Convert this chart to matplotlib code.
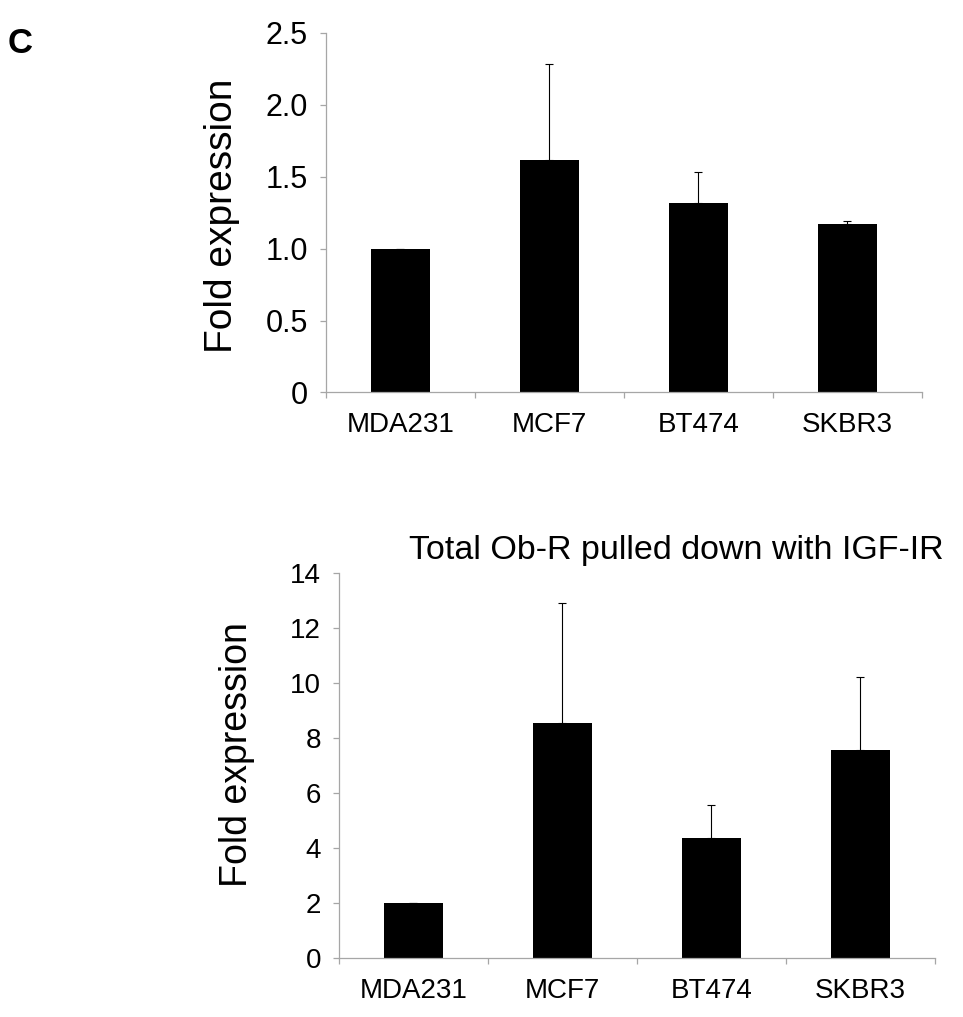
import matplotlib
matplotlib.use("Agg")
import matplotlib.pyplot as plt
import numpy as np

plt.rcParams['font.family'] = ['Liberation Sans', 'DejaVu Sans']

cell_lines = ["MDA231", "MCF7", "BT474", "SKBR3"]

# top panel
top_values = [1.0, 1.615, 1.32, 1.17]
top_errors = [0.0, 0.67, 0.21, 0.025]
top_ticks = [0, 0.5, 1.0, 1.5, 2.0, 2.5]
top_ticklabels = ["0", "0.5", "1.0", "1.5", "2.0", "2.5"]

# bottom panel
bottom_values = [2.0, 8.55, 4.39, 7.56]
bottom_errors = [0.0, 4.38, 1.17, 2.66]
bottom_ticks = [0, 2, 4, 6, 8, 10, 12, 14]
bottom_title = "Total Ob-R pulled down with IGF-IR"

AXIS_GRAY = "#a6a6a6"

fig = plt.figure(figsize=(9.63, 10.17), dpi=100)
ax_top = fig.add_axes([0.3385, 0.6141, 0.6189, 0.3535])
ax_bot = fig.add_axes([0.352, 0.0577, 0.6189, 0.3786])


def style_panel(ax, values, errors, ticks, ticklabels, ymax, label_xy,
                ytick_size, label_size):
    x = np.arange(len(cell_lines))
    ax.bar(x, values, width=0.4, color="black", zorder=2)
    ax.errorbar(x, values, yerr=[np.zeros(len(errors)), errors], fmt="none",
                ecolor="black", elinewidth=0.8, capsize=3, capthick=0.8, zorder=3)
    ax.set_xlim(-0.5, len(cell_lines) - 0.5)
    ax.set_ylim(0, ymax)
    for side in ("top", "right"):
        ax.spines[side].set_visible(False)
    for side in ("left", "bottom"):
        ax.spines[side].set_color(AXIS_GRAY)
        ax.spines[side].set_linewidth(0.9)
    ax.set_yticks(ticks)
    ax.set_yticklabels(ticklabels)
    ax.tick_params(axis="y", direction="out", length=4, width=0.9,
                   color=AXIS_GRAY, labelsize=ytick_size, pad=9)
    ax.set_xticks(x)
    ax.set_xticklabels(cell_lines)
    ax.set_xticks(np.arange(-0.5, len(cell_lines)), minor=True)
    ax.tick_params(axis="x", which="major", length=0, labelsize=20, pad=14)
    ax.tick_params(axis="x", which="minor", direction="out", length=4,
                   width=0.9, color=AXIS_GRAY)
    ax.set_ylabel("Fold expression", fontsize=label_size)
    ax.yaxis.set_label_coords(*label_xy)


style_panel(ax_top, top_values, top_errors, top_ticks, top_ticklabels,
            2.5, (-0.144, 0.49), 22, 28)
style_panel(ax_bot, bottom_values, bottom_errors, bottom_ticks,
            [str(t) for t in bottom_ticks], 14, (-0.141, 0.528), 20, 27)

ax_bot.text(0.566, 1.018, bottom_title, transform=ax_bot.transAxes,
            ha="center", va="bottom", fontsize=24.5)

fig.text(0.008, 0.948, "C", fontsize=25, fontweight="bold", ha="left",
         va="baseline")

fig.savefig("out.png", dpi=100)
